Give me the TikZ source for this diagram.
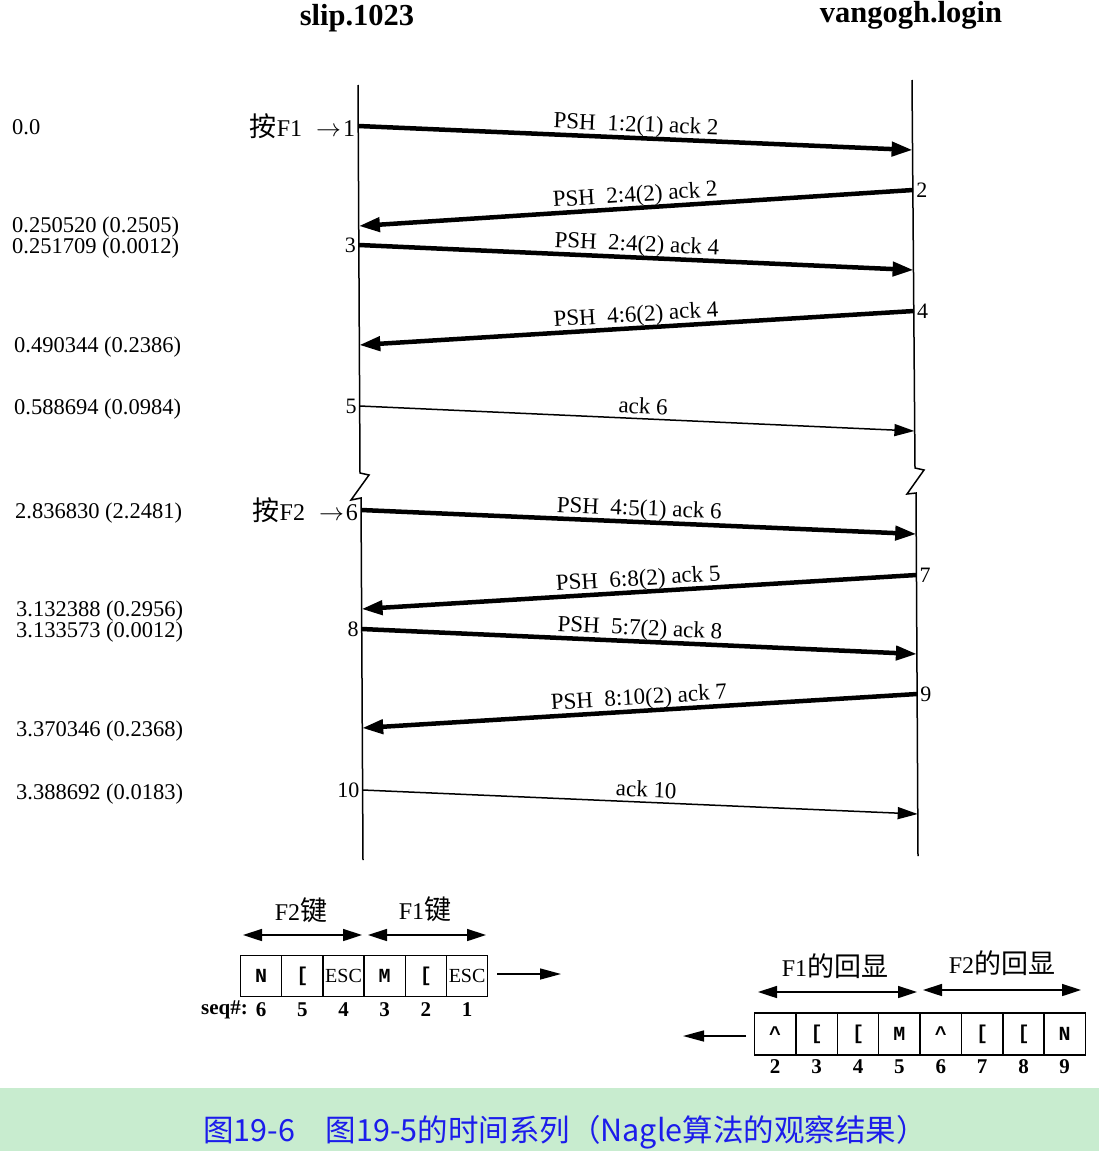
\documentclass[tikz,border=0pt]{standalone}
\usepackage{fontspec}
\setmainfont{Liberation Serif}
\newfontfamily\cjk{Noto Sans CJK SC}
\newfontfamily\monob{Liberation Mono}
\usetikzlibrary{arrows.meta}
\definecolor{capbg}{RGB}{200,236,207}
\definecolor{capfg}{RGB}{28,28,235}
\tikzset{
  tl/.style={line width=1.5pt, line join=miter},
  msgr/.style={line width=4.5pt, -{Triangle[length=21pt,width=14pt]}},
  msgl/.style={line width=4.5pt, {Triangle[length=21pt,width=14pt]}-},
  ackr/.style={line width=1.5pt, -{Triangle[length=20pt,width=12pt]}},
  lbl/.style={pos=0.5, above=1pt, sloped, inner sep=1pt, text height=0.7em, text depth=0.22em, font=\fontsize{23}{24}\selectfont},
  num/.style={inner sep=3pt, font=\fontsize{22}{24}\selectfont},
  tlab/.style={anchor=base west, inner sep=0pt, font=\fontsize{22.5}{23}\selectfont},
  ttl/.style={font=\fontsize{30.5}{32}\selectfont\bfseries},
  cell/.style={draw, line width=1.3pt, minimum width=41.2pt, minimum height=41pt, inner sep=0pt, font=\fontsize{20}{20}\monob\bfseries},
  esc/.style={cell, font=\fontsize{20}{20}\selectfont},
  seqn/.style={inner sep=0pt, font=\fontsize{21}{22}\selectfont\bfseries},
  dbl/.style={line width=1.6pt, {Triangle[length=19pt,width=12pt]}-{Triangle[length=19pt,width=12pt]}},
  flow/.style={line width=1.5pt, -{Triangle[length=21pt,width=11pt]}},
  grp/.style={inner sep=0pt, font=\fontsize{24}{28}\selectfont}
}
\newcommand{\zh}[1]{{\fontsize{27}{28}\cjk #1}}
\begin{document}
\begin{tikzpicture}[x=1pt,y=-1pt]
\useasboundingbox (0,0) rectangle (1099,1151);
% titles
\node[ttl] (slip) at (357,18) {slip.1023};
\node[ttl] (vang) at (911,15) {vangogh.login};
% time lines
\coordinate (LT) at (358,85);   \coordinate (LZa) at (360,473);
\coordinate (LZb) at (369,475); \coordinate (LZc) at (351,500);
\coordinate (LZd) at (361,498); \coordinate (LB) at (363,860);
\coordinate (RT) at (912,80);   \coordinate (RZa) at (915,468);
\coordinate (RZb) at (924,470); \coordinate (RZc) at (907,494);
\coordinate (RZd) at (916,493); \coordinate (RB) at (918,856);
\draw[tl] (LT) -- (LZa) -- (LZb) -- (LZc) -- (LZd) -- (LB);
\draw[tl] (RT) -- (RZa) -- (RZb) -- (RZc) -- (RZd) -- (RB);
% segment end points
\coordinate (L1) at (358.3,126); \coordinate (R1) at (912.6,150);
\coordinate (R2) at (913.1,190); \coordinate (L2) at (358.9,226);
\coordinate (L3) at (359.1,245); \coordinate (R3) at (913.6,270);
\coordinate (R4) at (914.0,311); \coordinate (L4) at (359.3,345);
\coordinate (L5) at (359.7,406); \coordinate (R5) at (914.4,431);
\coordinate (L6) at (361.1,510); \coordinate (R6) at (916.2,534);
\coordinate (R7) at (916.4,575); \coordinate (L7) at (361.6,609);
\coordinate (L8) at (361.7,629); \coordinate (R8) at (916.9,654);
\coordinate (R9) at (917.1,694); \coordinate (L9) at (362.2,728);
\coordinate (L10) at (362.6,790); \coordinate (R10) at (917.7,814);
% segments
\draw[msgr] (L1) -- (R1) node[lbl] (m1) {PSH\ \ 1:2(1) ack 2};
\draw[msgl] (L2) -- (R2) node[lbl] (m2) {PSH\ \ 2:4(2) ack 2};
\draw[msgr] (L3) -- (R3) node[lbl] (m3) {PSH\ \ 2:4(2) ack 4};
\draw[msgl] (L4) -- (R4) node[lbl] (m4) {PSH\ \ 4:6(2) ack 4};
\draw[ackr] (L5) -- (R5) node[lbl, pos=0.51] (m5) {ack 6};
\draw[msgr] (L6) -- (R6) node[lbl] (m6) {PSH\ \ 4:5(1) ack 6};
\draw[msgl] (L7) -- (R7) node[lbl] (m7) {PSH\ \ 6:8(2) ack 5};
\draw[msgr] (L8) -- (R8) node[lbl] (m8) {PSH\ \ 5:7(2) ack 8};
\draw[msgl] (L9) -- (R9) node[lbl] (m9) {PSH\ \ 8:10(2) ack 7};
\draw[ackr] (L10) -- (R10) node[lbl, pos=0.51] (m10) {ack 10};
% segment numbers
\node[num, anchor=east, font=\fontsize{24}{26}\selectfont] (n1) at (L1) {\zh{按}F1\hspace{14pt}$\rightarrow$\hspace{2pt}1};
\node[num, anchor=west] (n2) at (R2) {2};
\node[num, anchor=east] (n3) at (L3) {3};
\node[num, anchor=west] (n4) at (R4) {4};
\node[num, anchor=east] (n5) at (L5) {5};
\node[num, anchor=east, font=\fontsize{24}{26}\selectfont] (n6) at (L6) {\zh{按}F2\hspace{14pt}$\rightarrow$\hspace{2pt}6};
\node[num, anchor=west] (n7) at (R7) {7};
\node[num, anchor=east] (n8) at (L8) {8};
\node[num, anchor=west] (n9) at (R9) {9};
\node[num, anchor=east] (n10) at (L10) {10};
% times
\node[tlab] (t1) at (12,134) {0.0};
\node[tlab] (t2) at (12,232) {0.250520 (0.2505)};
\node[tlab] (t3) at (12,253) {0.251709 (0.0012)};
\node[tlab] (t4) at (14,352) {0.490344 (0.2386)};
\node[tlab] (t5) at (14,414) {0.588694 (0.0984)};
\node[tlab] (t6) at (15,518) {2.836830 (2.2481)};
\node[tlab] (t7) at (16,616) {3.132388 (0.2956)};
\node[tlab] (t8) at (16,637) {3.133573 (0.0012)};
\node[tlab] (t9) at (16,736) {3.370346 (0.2368)};
\node[tlab] (t10) at (16,799) {3.388692 (0.0183)};
% sent keys
\node[cell] (s6) at (261.1,976) {N};
\node[cell] (s5) at (302.3,976) {[};
\node[esc]  (s4) at (343.5,976) {ESC};
\node[cell] (s3) at (384.7,976) {M};
\node[cell] (s2) at (425.9,976) {[};
\node[esc]  (s1) at (467.1,976) {ESC};
\node[seqn, anchor=east] (seq) at (248,1010) {seq\#:};
\foreach \i/\x in {6/261.1,5/302.3,4/343.5,3/384.7,2/425.9,1/467.1}
  \node[seqn] (q\i) at (\x,1010) {\i};
\coordinate (fa) at (497,974); \coordinate (fb) at (561,974);
\draw[flow] (fa) -- (fb);
\coordinate (k2a) at (243,935); \coordinate (k2b) at (362,935);
\coordinate (k1a) at (368,935); \coordinate (k1b) at (486,935);
\draw[dbl] (k2a) -- (k2b);
\draw[dbl] (k1a) -- (k1b);
\node[grp] (g2) at (301,910) {F2\zh{键}};
\node[grp] (g1) at (425,909) {F1\zh{键}};
% echoed keys
\foreach \i/\x/\c in {2/775/\^{}, 3/816.6/[, 4/858/[, 5/899.4/M, 6/940.8/\^{}, 7/982.2/[, 8/1023.6/[, 9/1064.6/N}
  {\node[cell, minimum height=42pt] (e\i) at (\x,1034) {\c};
   \node[seqn] (en\i) at (\x,1067) {\i};}
\coordinate (ga) at (746,1036); \coordinate (gb) at (683,1036);
\draw[flow] (ga) -- (gb);
\coordinate (h1a) at (758,992); \coordinate (h1b) at (917,992);
\coordinate (h2a) at (923,990); \coordinate (h2b) at (1081,990);
\draw[dbl] (h1a) -- (h1b);
\draw[dbl] (h2a) -- (h2b);
\node[grp] (gh1) at (835,966) {F1\zh{的回显}};
\node[grp] (gh2) at (1002,963) {F2\zh{的回显}};
% caption
\fill[capbg] (0,1088) rectangle (1099,1151);
\node[text=capfg, inner sep=0pt, font=\fontsize{30.5}{32}\cjk] (cap) at (565,1132) {图19-6\quad 图19-5的时间系列（Nagle算法的观察结果）};
\end{tikzpicture}
\end{document}
